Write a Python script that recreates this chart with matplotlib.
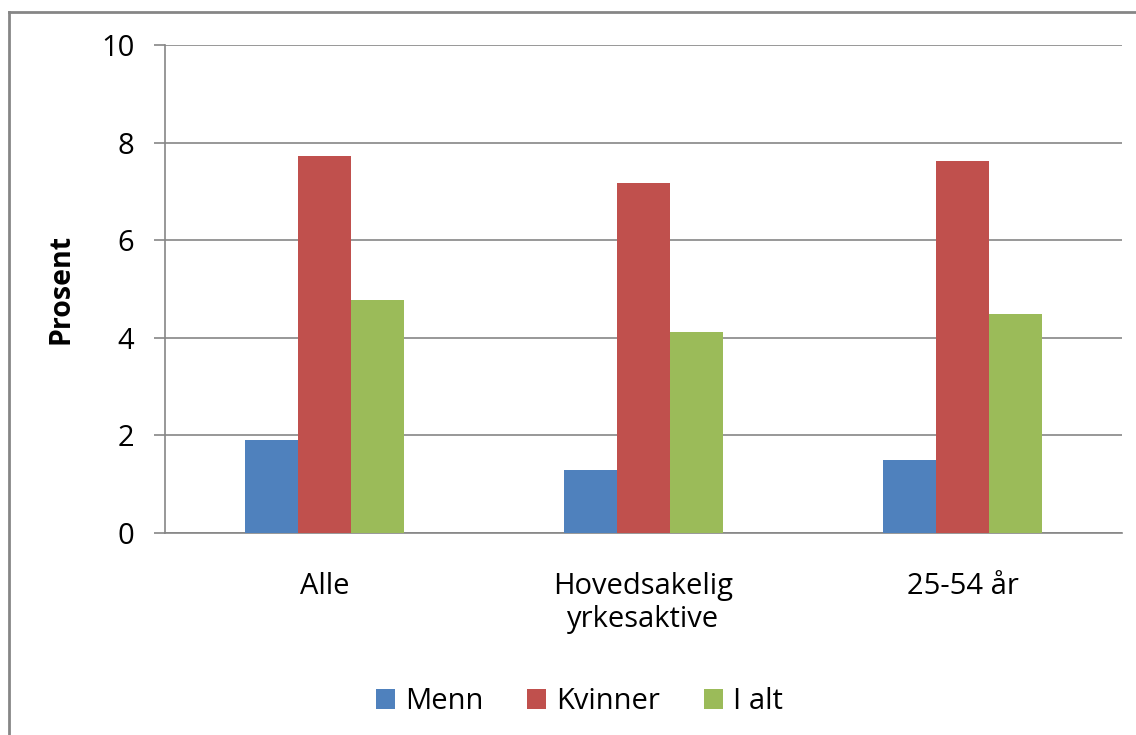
import numpy as np
import matplotlib.pyplot as plt
from matplotlib.lines import Line2D

# data
categories = ["Alle", "Hovedsakelig\nyrkesaktive", "25-54 år"]
menn = [1.9, 1.3, 1.5]
kvinner = [7.72, 7.18, 7.63]
i_alt = [4.77, 4.12, 4.49]
series_names = ["Menn", "Kvinner", "I alt"]
colors = ["#4F81BD", "#C0504D", "#9BBB59"]
yticks = [0, 2, 4, 6, 8, 10]

plt.rcParams['font.family'] = ['Open Sans', 'DejaVu Sans']

fig = plt.figure(figsize=(11.36, 7.35), dpi=100)
ax = fig.add_axes([0.1452, 0.2748, 0.8425, 0.664])

x = np.arange(len(categories))
w = 0.166
for i, (vals, name, c) in enumerate(zip([menn, kvinner, i_alt], series_names, colors)):
    ax.bar(x + (i - 1) * w, vals, width=w, color=c, label=name, zorder=3)

ax.set_xlim(-0.5, 2.5)
ax.set_ylim(0, 10)
ax.set_yticks(yticks)
ax.set_xticks(x)
ax.set_xticklabels(categories, fontsize=21, linespacing=1.2)
ax.tick_params(axis='x', length=0, pad=28)
ax.tick_params(axis='y', labelsize=21, length=8, width=1.2, color='#868686', pad=14, direction='out')
ax.grid(axis='y', color='#868686', linewidth=1.2, zorder=0)

for s in ['top', 'right']:
    ax.spines[s].set_visible(False)
ax.spines['left'].set_color('#868686')
ax.spines['bottom'].set_color('#868686')
ax.spines['left'].set_linewidth(1.2)
ax.spines['bottom'].set_linewidth(1.2)

ax.set_ylabel("Prosent", fontsize=20.5, fontweight='bold')
ax.yaxis.set_label_coords(-0.093, 0.5)

ax.legend(loc='center', bbox_to_anchor=(0.510, 0.045), bbox_transform=fig.transFigure,
          ncol=3, frameon=False, fontsize=21, handlelength=0.65, handleheight=0.65,
          handletextpad=0.35, columnspacing=1.5)

# chart area border (left and top)
fig.add_artist(Line2D([9 / 1136, 9 / 1136], [0, 1 - 12 / 735], color='#868686', linewidth=2,
                      transform=fig.transFigure))
fig.add_artist(Line2D([9 / 1136, 1], [1 - 12 / 735, 1 - 12 / 735], color='#868686', linewidth=2,
                      transform=fig.transFigure))

fig.savefig("out.png", dpi=100)
